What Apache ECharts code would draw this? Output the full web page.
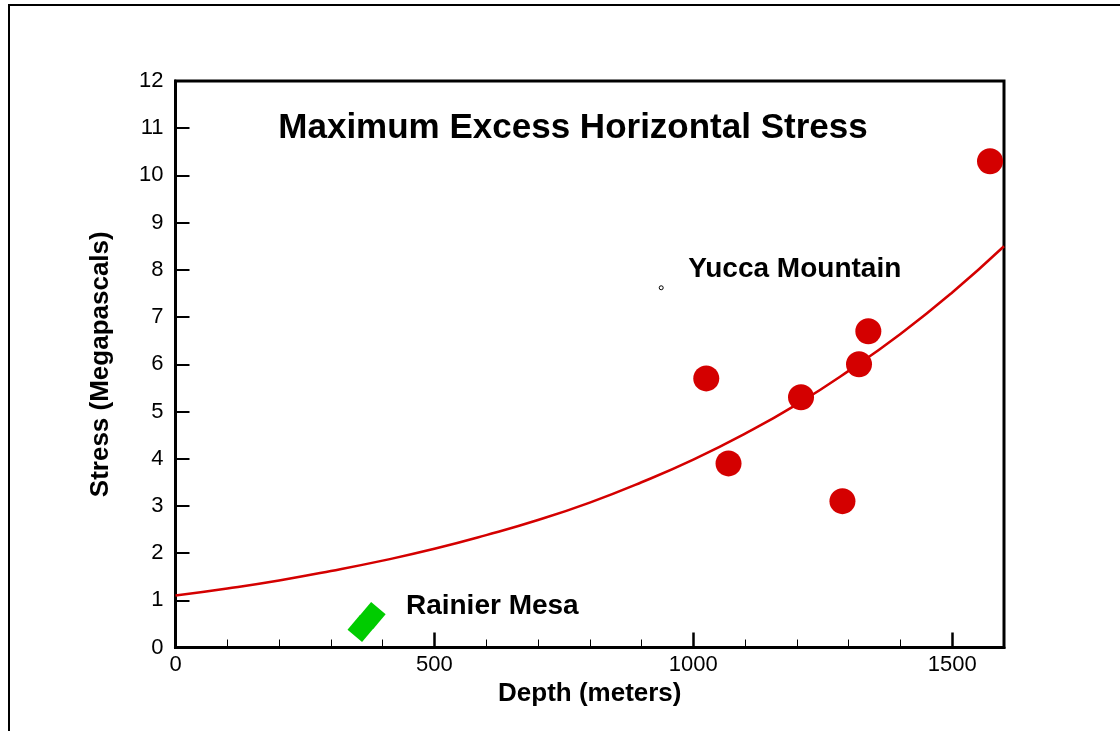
<!DOCTYPE html>
<html>
<head>
<meta charset="utf-8">
<style>
  html, body { margin: 0; padding: 0; background: #ffffff; }
  #chart { width: 1120px; height: 731px; }
</style>
<script src="https://cdn.jsdelivr.net/npm/echarts@6/dist/echarts.min.js"></script>
</head>
<body>
<div id="chart"></div>
<script>
// Yucca Mountain stress measurements: [depth (m), stress (MPa)]
const yuccaPoints = [
  [1025, 5.7],
  [1068, 3.9],
  [1208, 5.3],
  [1288, 3.1],
  [1320, 6.0],
  [1338, 6.7],
  [1573, 10.3]
];

// Rainier Mesa measurements: [depth (m), stress (MPa)]
const rainierPoints = [
  [358, 0.40],
  [380, 0.68]
];

// Trend curve, sampled every 100 m: [depth (m), stress (MPa)]
const trendDepths = [0, 100, 200, 300, 400, 500, 600, 700, 800, 900, 1000, 1100, 1200, 1300, 1400, 1500, 1600];
const trendStress = [1.10, 1.25, 1.42, 1.62, 1.84, 2.09, 2.38, 2.70, 3.07, 3.50, 3.98, 4.53, 5.15, 5.86, 6.64, 7.52, 8.50];

// Small reference marker beside the Yucca Mountain label
const markerPoint = [[938, 7.62]];

// Text annotations anchored (left edge, vertical middle) in data coordinates
const annotationNames = ['Yucca Mountain', 'Rainier Mesa'];
const annotationAnchors = [[990, 8.02], [445, 0.88]];

const chartTitle = 'Maximum Excess Horizontal Stress';
const xAxisTitle = 'Depth (meters)';
const yAxisTitle = 'Stress (Megapascals)';
const xMajorTicks = [0, 500, 1000, 1500];

const FONT = '"Liberation Sans", Arial, Helvetica, sans-serif';
const RED = '#d40000';
const GREEN = '#00cc00';

const trendData = trendDepths.map((d, i) => [d, trendStress[i]]);

const chart = echarts.init(document.getElementById('chart'), null, { renderer: 'canvas' });

chart.setOption({
  backgroundColor: '#ffffff',
  animation: false,
  textStyle: { fontFamily: FONT },
  grid: {
    left: 175.5, right: 116, top: 81, bottom: 83.5,
    show: true, borderColor: '#000', borderWidth: 3, backgroundColor: 'transparent'
  },
  graphic: [
    {
      type: 'polyline',
      shape: { points: [[9, 740], [9, 5], [1125, 5]] },
      style: { stroke: '#000', lineWidth: 2, fill: null },
      silent: true
    },
    {
      type: 'text',
      x: 573, y: 128,
      style: {
        text: chartTitle,
        font: 'bold 35px ' + FONT,
        fill: '#000',
        align: 'center',
        verticalAlign: 'middle'
      },
      silent: true
    }
  ],
  xAxis: [
    {
      type: 'value',
      min: 0, max: 1600,
      interval: 500,
      name: xAxisTitle,
      nameLocation: 'middle',
      nameGap: 25,
      nameTextStyle: { fontSize: 26, fontWeight: 'bold', color: '#000', fontFamily: FONT },
      axisLine: { show: true, onZero: false, lineStyle: { color: '#000', width: 3 } },
      axisTick: { show: true, inside: true, length: 15, lineStyle: { color: '#000', width: 2.5 }, customValues: xMajorTicks },
      axisLabel: {
        show: true, color: '#000', fontSize: 22, margin: 6, fontFamily: FONT,
        customValues: xMajorTicks,
        formatter: (v) => String(v)
      },
      splitLine: { show: false }
    },
    {
      // minor ticks every 100 m
      type: 'value',
      min: 0, max: 1600,
      interval: 100,
      position: 'bottom',
      axisLine: { show: false },
      axisTick: { show: true, inside: true, length: 8, lineStyle: { color: '#000', width: 1 } },
      axisLabel: { show: false },
      splitLine: { show: false }
    }
  ],
  yAxis: {
    type: 'value',
    min: 0, max: 12,
    interval: 1,
    name: yAxisTitle,
    nameLocation: 'middle',
    nameGap: 62,
    nameTextStyle: { fontSize: 26, fontWeight: 'bold', color: '#000', fontFamily: FONT },
    axisLine: { show: true, onZero: false, lineStyle: { color: '#000', width: 3 } },
    axisTick: { show: true, inside: true, length: 14, lineStyle: { color: '#000', width: 2 } },
    axisLabel: { show: true, color: '#000', fontSize: 22, margin: 12, fontFamily: FONT },
    splitLine: { show: false }
  },
  series: [
    {
      name: 'Trend',
      type: 'line',
      data: trendData,
      smooth: true,
      showSymbol: false,
      lineStyle: { color: RED, width: 2.5 },
      z: 2
    },
    {
      name: 'Yucca Mountain',
      type: 'scatter',
      data: yuccaPoints,
      symbol: 'circle',
      symbolSize: 26,
      itemStyle: { color: RED, opacity: 1 },
      z: 3
    },
    {
      name: 'Rainier Mesa',
      type: 'scatter',
      data: rainierPoints,
      symbol: 'rect',
      symbolSize: 19,
      symbolRotate: 50,
      itemStyle: { color: GREEN, opacity: 1 },
      z: 3
    },
    {
      name: 'Marker',
      type: 'scatter',
      data: markerPoint,
      symbol: 'circle',
      symbolSize: 4,
      itemStyle: { color: '#ffffff', borderColor: '#000000', borderWidth: 1, opacity: 1 },
      z: 3
    }
  ]
});

// Place the annotation texts at their data anchors
const labelGraphics = annotationNames.map((name, i) => {
  const [px, py] = chart.convertToPixel({ gridIndex: 0 }, annotationAnchors[i]);
  return {
    id: 'note' + i,
    type: 'text',
    x: px, y: py,
    silent: true,
    style: {
      text: name,
      font: 'bold 28px ' + FONT,
      fill: '#000',
      align: 'left',
      verticalAlign: 'middle'
    }
  };
});
chart.setOption({ graphic: labelGraphics });
</script>
</body>
</html>
